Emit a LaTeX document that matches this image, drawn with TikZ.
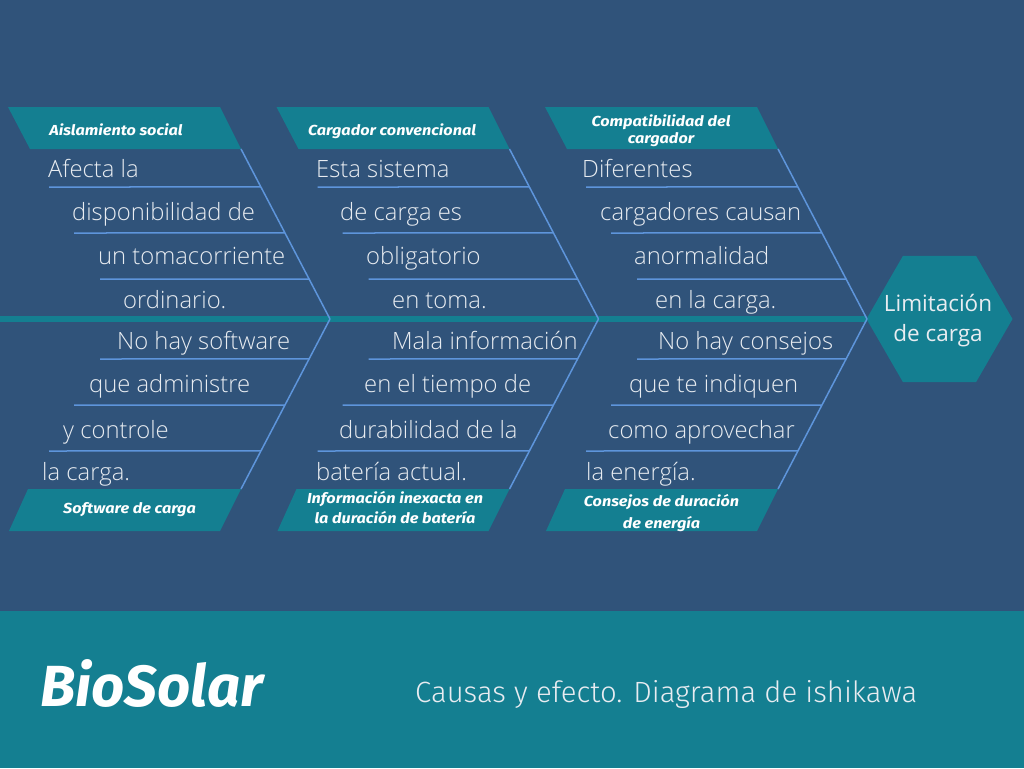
\documentclass[tikz,border=0pt]{standalone}
\usepackage{fontspec}
\usetikzlibrary{shapes.geometric,calc}
\setmainfont{Open Sans}
\IfFontExistsTF{Open Sans Light}{\newfontfamily\bodyfont{Open Sans Light}}{\newfontfamily\bodyfont{Open Sans}}
\newfontfamily\effectfont{Open Sans}
\newfontfamily\headfont{Fira Sans}
\newfontfamily\labelfont{Fira Sans}[FakeStretch=1.12]
\IfFontExistsTF{Fira Sans Light}{\newfontfamily\subfont{Fira Sans Light}}{\newfontfamily\subfont{Fira Sans}}
\definecolor{bgblue}{HTML}{30537A}
\definecolor{bandteal}{HTML}{147F91}
\definecolor{bone}{HTML}{5E95DB}
\definecolor{ink}{HTML}{E8ECF1}
\tikzset{
  hdr/.style={fill=bandteal},
  hdrtext/.style={text=white, inner sep=0, align=center,
    font=\labelfont\bfseries\itshape\fontsize{14.5}{#1}\selectfont},
  hdrtext/.default=17,
  body/.style={text=ink, inner sep=0, anchor=base west,
    font=\bodyfont\fontsize{23.8}{28}\selectfont},
  rib/.style={draw=bone, line width=1.5},
}
% one cause branch: #1 = horizontal offset, #2 = name prefix
\newcommand{\causebranch}[2]{%
  % upper category box and bone
  \coordinate (#2ua) at (8+#1,107);
  \coordinate (#2ub) at (220+#1,107);
  \coordinate (#2uc) at (241+#1,149);
  \coordinate (#2ud) at (30+#1,149);
  \coordinate (#2us) at (330+#1,319);
  \fill[hdr] (#2ua) -- (#2ub) -- (#2uc) -- (#2ud) -- cycle;
  \draw[rib] (#2uc) -- (#2us);
  \coordinate (#2u1) at (49+#1,187);
  \coordinate (#2u2) at (74+#1,233);
  \coordinate (#2u3) at (100+#1,279);
  \draw[rib] (#2u1) -- ($(#2uc)!0.2235!(#2us)$);
  \draw[rib] (#2u2) -- ($(#2uc)!0.494!(#2us)$);
  \draw[rib] (#2u3) -- ($(#2uc)!0.7647!(#2us)$);
  % lower category box and bone
  \coordinate (#2la) at (28+#1,489);
  \coordinate (#2lb) at (241+#1,489);
  \coordinate (#2lc) at (220+#1,531);
  \coordinate (#2ld) at (9+#1,531);
  \fill[hdr] (#2la) -- (#2lb) -- (#2lc) -- (#2ld) -- cycle;
  \draw[rib] (#2us) -- (#2lb);
  \coordinate (#2l1) at (100+#1,359);
  \coordinate (#2l2) at (74+#1,405);
  \coordinate (#2l3) at (49+#1,451);
  \draw[rib] (#2l1) -- ($(#2us)!0.235!(#2lb)$);
  \draw[rib] (#2l2) -- ($(#2us)!0.506!(#2lb)$);
  \draw[rib] (#2l3) -- ($(#2us)!0.776!(#2lb)$);
}
\begin{document}
\begin{tikzpicture}[x=1pt,y=-1pt]
  \fill[bgblue] (0,0) rectangle (1024,768);
  \useasboundingbox (0,0) rectangle (1024,768);
  \fill[bandteal] (0,611) rectangle (1024,768);

  % effect: hexagon head of the fish
  \node[regular polygon, regular polygon sides=6, minimum size=146pt,
        inner sep=0, outer sep=0, fill=bandteal] (effect) at (939.5,319) {};
  \node[text=ink, align=center, inner sep=0,
        font=\effectfont\fontsize{22.5}{30}\selectfont] (effectlabel)
        at (938,321) {Limitación\\de carga};
  \coordinate (tail) at (0,319);
  \draw[bandteal, line width=6] (tail) -- (effect.west);

  \causebranch{0}{a}
  \causebranch{268.5}{b}
  \causebranch{537}{c}

  % category labels
  \node[hdrtext, anchor=base] (h1) at (116,135) {Aislamiento social};
  \node[hdrtext, anchor=base] (h2) at (392,135) {Cargador convencional};
  \node[hdrtext] (h3) at (661,131) {Compatibilidad del\\cargador};
  \node[hdrtext, anchor=base] (h4) at (129.5,513) {Software de carga};
  \node[hdrtext=20] (h5) at (395,508) {Información inexacta en\\la duración de batería};
  \node[hdrtext=22] (h6) at (661.5,513) {Consejos de duración\\de energía};

  % causes, first branch
  \node[body] (a1) at (48,177) {Afecta la};
  \node[body] (a2) at (72,220) {disponibilidad de};
  \node[body] (a3) at (98,264) {un tomacorriente};
  \node[body] (a4) at (123,308) {ordinario.};
  \node[body] (a5) at (117,349) {No hay software};
  \node[body] (a6) at (89,392) {que administre};
  \node[body] (a7) at (63,438) {y controle};
  \node[body] (a8) at (42,480) {la carga.};
  % second branch
  \node[body] (b1) at (316,177) {Esta sistema};
  \node[body] (b2) at (340,220) {de carga es};
  \node[body] (b3) at (366,264) {obligatorio};
  \node[body] (b4) at (392,308) {en toma.};
  \node[body] (b5) at (392,349) {Mala información};
  \node[body] (b6) at (364,392) {en el tiempo de};
  \node[body] (b7) at (339,438) {durabilidad de la};
  \node[body] (b8) at (316,480) {batería actual.};
  % third branch
  \node[body] (c1) at (582,177) {Diferentes};
  \node[body] (c2) at (600,220) {cargadores causan};
  \node[body] (c3) at (634,264) {anormalidad};
  \node[body] (c4) at (655,308) {en la carga.};
  \node[body] (c5) at (658,349) {No hay consejos};
  \node[body] (c6) at (629,392) {que te indiquen};
  \node[body] (c7) at (608,438) {como aprovechar};
  \node[body] (c8) at (586,480) {la energía.};

  % footer
  \node[anchor=base west, inner sep=0, text=white,
        font=\headfont\bfseries\itshape\fontsize{58}{60}\selectfont]
        (brand) at (40,706) {BioSolar};
  \node[anchor=base west, inner sep=0, text=ink,
        font=\subfont\fontsize{29.3}{32}\selectfont]
        (title) at (415,702) {Causas y efecto. Diagrama de ishikawa};
\end{tikzpicture}
\end{document}
